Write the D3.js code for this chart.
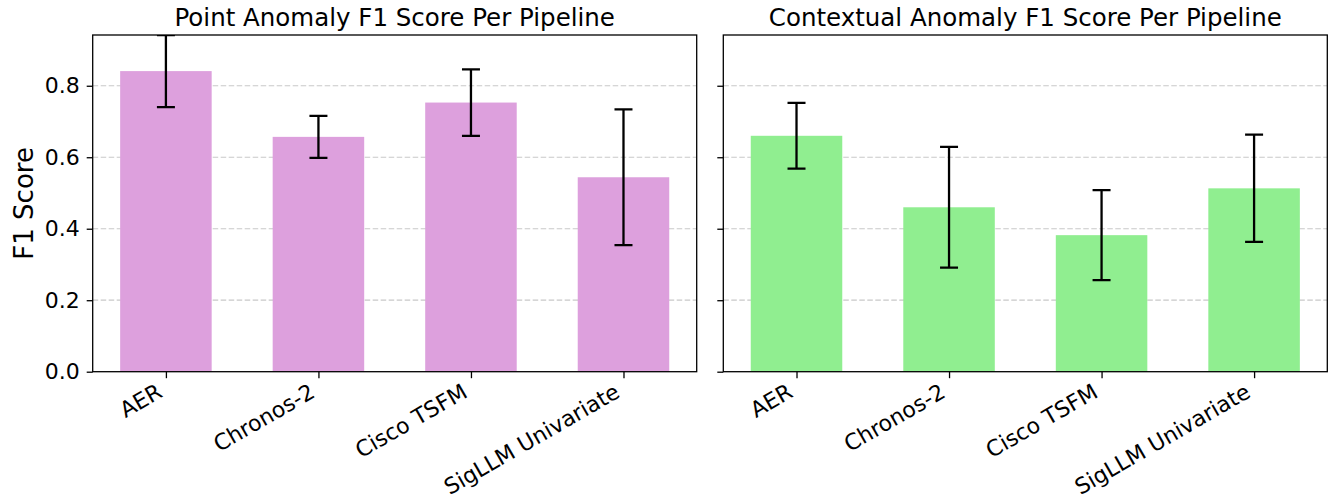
<!DOCTYPE html>
<html>
<head>
<meta charset="utf-8">
<script src="https://cdn.jsdelivr.net/npm/d3@7"></script>
<style>
  body { margin: 0; background: #fff; }
  svg { display: block; font-family: "DejaVu Sans", sans-serif; }
</style>
</head>
<body>
<svg id="chart" width="1329" height="503"></svg>
<script>
// Pipelines compared in both panels
const pipelines = ["AER", "Chronos-2", "Cisco TSFM", "SigLLM Univariate"];

// Point anomaly F1: mean and standard deviation
const pointMean = [0.841, 0.657, 0.753, 0.544];
const pointStd  = [0.101, 0.059, 0.093, 0.190];

// Contextual anomaly F1: mean and standard deviation
const contextMean = [0.660, 0.460, 0.382, 0.513];
const contextStd  = [0.092, 0.169, 0.126, 0.150];

const yTicks = [0.0, 0.2, 0.4, 0.6, 0.8];
const yMax = 0.942;

const svg = d3.select("#chart");

const panels = [
  { title: "Point Anomaly F1 Score Per Pipeline", mean: pointMean, std: pointStd,
    color: "#DDA0DD", left: 92.7, right: 696.7, showLabels: true, id: "p" },
  { title: "Contextual Anomaly F1 Score Per Pipeline", mean: contextMean, std: contextStd,
    color: "#90EE90", left: 723.3, right: 1327.3, showLabels: false, id: "c" }
];

const plotTop = 35, plotBottom = 371.7;
const tickFont = 22;

const y = d3.scaleLinear().domain([0, yMax]).range([plotBottom, plotTop]);

panels.forEach(p => {
  const g = svg.append("g");
  // categorical axis with padding around 4 bars of width 0.6
  const x = d3.scaleLinear().domain([-0.48, 3.48]).range([p.left, p.right]);
  const bw = x(0.6) - x(0);

  g.append("clipPath").attr("id", "clip-" + p.id)
    .append("rect").attr("x", p.left).attr("y", plotTop)
    .attr("width", p.right - p.left).attr("height", plotBottom - plotTop);

  // horizontal dashed grid
  g.append("g").selectAll("line").data(yTicks.filter(t => t > 0)).join("line")
    .attr("x1", p.left).attr("x2", p.right)
    .attr("y1", d => y(d)).attr("y2", d => y(d))
    .attr("stroke", "#b0b0b0").attr("stroke-opacity", 0.7)
    .attr("stroke-width", 1.2).attr("stroke-dasharray", "5.5,2.5");

  const plot = g.append("g").attr("clip-path", `url(#clip-${p.id})`);

  // bars
  plot.selectAll("rect.bar").data(pipelines).join("rect")
    .attr("class", "bar")
    .attr("x", (d, i) => x(i) - bw / 2)
    .attr("width", bw)
    .attr("y", (d, i) => y(p.mean[i]))
    .attr("height", (d, i) => y(0) - y(p.mean[i]))
    .attr("fill", p.color);

  // error bars
  const eb = plot.selectAll("g.err").data(pipelines).join("g").attr("class", "err");
  eb.append("line")
    .attr("x1", (d, i) => x(i)).attr("x2", (d, i) => x(i))
    .attr("y1", (d, i) => y(p.mean[i] - p.std[i]))
    .attr("y2", (d, i) => y(p.mean[i] + p.std[i]))
    .attr("stroke", "#000").attr("stroke-width", 2.3);
  [-1, 1].forEach(s => {
    eb.append("line")
      .attr("x1", (d, i) => x(i) - 9).attr("x2", (d, i) => x(i) + 9)
      .attr("y1", (d, i) => y(p.mean[i] + s * p.std[i]))
      .attr("y2", (d, i) => y(p.mean[i] + s * p.std[i]))
      .attr("stroke", "#000").attr("stroke-width", 2.3);
  });

  // frame
  g.append("rect").attr("x", p.left).attr("y", plotTop)
    .attr("width", p.right - p.left).attr("height", plotBottom - plotTop)
    .attr("fill", "none").attr("stroke", "#000").attr("stroke-width", 1.3);

  // y axis
  const yAxis = d3.axisLeft(y).tickValues(yTicks)
    .tickFormat(p.showLabels ? d3.format(".1f") : () => "")
    .tickSize(6).tickPadding(7);
  const ya = g.append("g").attr("transform", `translate(${p.left},0)`).call(yAxis);
  ya.select(".domain").remove();
  ya.selectAll(".tick line").attr("stroke", "#000").attr("stroke-width", 1.3);
  ya.selectAll(".tick text").attr("font-size", tickFont).attr("fill", "#000")
    .attr("font-family", "DejaVu Sans");

  // x axis with labels rotated 30 degrees, right-aligned at the tick
  const xa = g.append("g").attr("transform", `translate(0,${plotBottom})`)
    .call(d3.axisBottom(x).tickValues(d3.range(pipelines.length))
      .tickFormat(i => pipelines[i]).tickSize(6.5).tickPadding(4));
  xa.select(".domain").remove();
  xa.selectAll(".tick line").attr("stroke", "#000").attr("stroke-width", 1.3);
  xa.selectAll(".tick text")
    .attr("font-size", tickFont).attr("fill", "#000").attr("font-family", "DejaVu Sans")
    .attr("text-anchor", "end")
    .attr("x", 0).attr("y", 0).attr("dy", null)
    .attr("transform", `translate(${-0.12 * tickFont},${10 + 0.66 * tickFont}) rotate(-30)`);

  // title
  g.append("text")
    .attr("x", (p.left + p.right) / 2).attr("y", 26)
    .attr("text-anchor", "middle").attr("font-size", 24.5).attr("fill", "#000")
    .text(p.title);
});

// shared y label
svg.append("text")
  .attr("transform", `translate(33,${(plotTop + plotBottom) / 2}) rotate(-90)`)
  .attr("text-anchor", "middle").attr("font-size", 26).attr("fill", "#000")
  .text("F1 Score");
</script>
</body>
</html>
